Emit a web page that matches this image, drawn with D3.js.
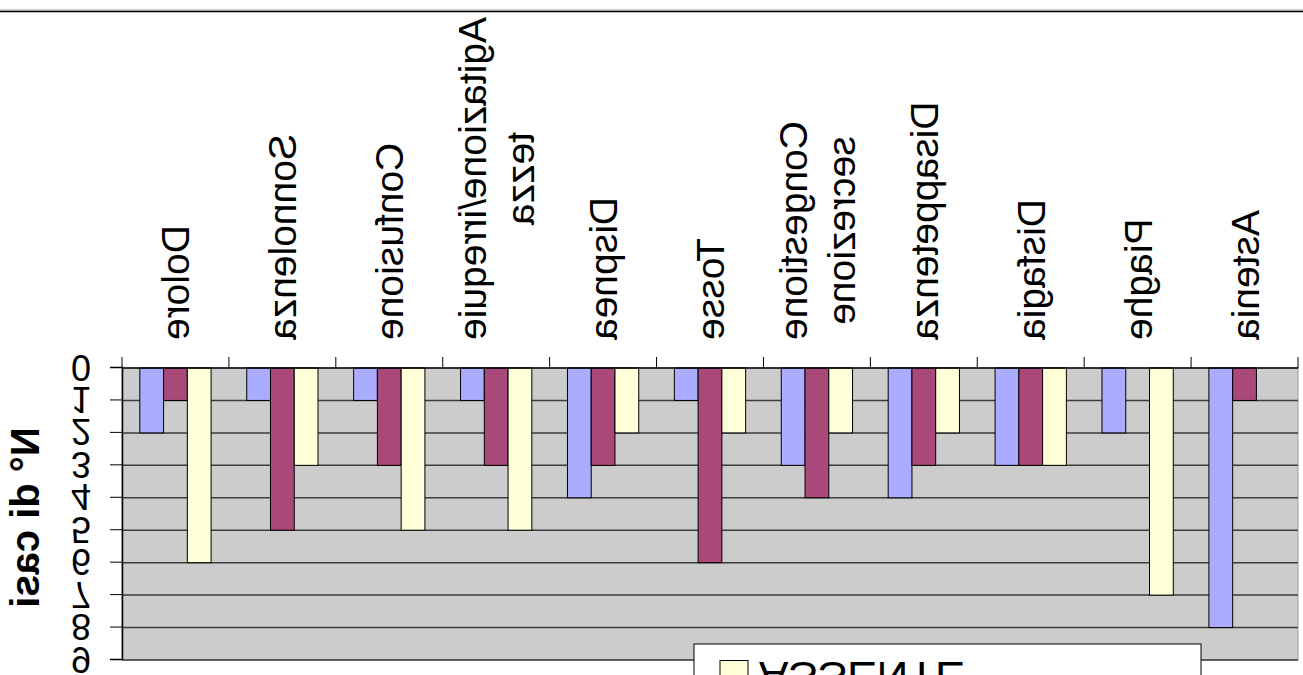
<!DOCTYPE html>
<html>
<head>
<meta charset="utf-8">
<script src="https://cdn.jsdelivr.net/npm/d3@7"></script>
<style>
  html, body { margin: 0; padding: 0; background: #ffffff; }
  svg { display: block; font-family: "Liberation Sans", Arial, sans-serif; }
</style>
</head>
<body>
<svg id="chart" width="1303" height="675"></svg>
<script>
// Sintomi (righe di etichetta già spezzate come nel grafico)
const categorie = [
  ["Dolore"], ["Sonnolenza"], ["Confusione"], ["Agitazione/irrequie", "tezza"],
  ["Dispnea"], ["Tosse"], ["Congestione", "secrezione"], ["Disappetenza"],
  ["Disfagia"], ["Piaghe"], ["Astenia"]
];
// Numero di casi per serie
const serieBlu    = [2, 1, 1, 1, 4, 1, 3, 4, 3, 2, 8];
const serieViola  = [1, 5, 3, 3, 3, 6, 4, 3, 3, 0, 1];
const serieGialla = [6, 3, 5, 5, 2, 2, 2, 2, 3, 7, 0];
const coloriSerie = ["#aaacff", "#a9497a", "#ffffd8"];
const yTicks = [0, 1, 2, 3, 4, 5, 6, 7, 8, 9];
const titoloAsseY = "N° di casi";
const voceLegenda = "ASSENTE";

const W = 1303, H = 675;
const svg = d3.select("#chart");

// The whole chart is drawn upside down (mirrored vertically)
const root = svg.append("g").attr("transform", `translate(0,${H}) scale(1,-1)`);

const nomi = categorie.map(c => c.join(""));
const serie = [serieBlu, serieViola, serieGialla];

const x0 = d3.scaleBand().domain(nomi).range([122, 1298]).padding(0);
const x1 = d3.scaleBand().domain([0, 1, 2]).range([0, x0.bandwidth()])
  .paddingInner(0).paddingOuter(0.75);
const y = d3.scaleLinear().domain([0, 9]).range([307, 15]);

// outer frame line
root.append("line").attr("x1", 0).attr("x2", W).attr("y1", 665).attr("y2", 665)
  .attr("stroke", "#aaaaaa").attr("stroke-width", 1);
root.append("line").attr("x1", 0).attr("x2", W).attr("y1", 663.5).attr("y2", 663.5)
  .attr("stroke", "#000").attr("stroke-width", 1.5);

// plot area
root.append("rect")
  .attr("x", x0.range()[0]).attr("y", y(9))
  .attr("width", x0.range()[1] - x0.range()[0]).attr("height", y(0) - y(9))
  .attr("fill", "#cccccc").attr("stroke", "#9a9a9a").attr("stroke-width", 1);

// gridlines
root.append("g").selectAll("line").data(yTicks.filter(d => d > 0)).join("line")
  .attr("x1", x0.range()[0]).attr("x2", x0.range()[1])
  .attr("y1", d => y(d)).attr("y2", d => y(d))
  .attr("stroke", "#3c3c3c").attr("stroke-width", 1.5);

// bars
const gruppi = root.append("g").selectAll("g").data(nomi).join("g")
  .attr("transform", d => `translate(${x0(d)},0)`);
gruppi.selectAll("rect")
  .data((d, i) => serie.map((s, k) => ({ k, v: s[i] })).filter(o => o.v > 0))
  .join("rect")
  .attr("x", d => x1(d.k)).attr("width", x1.bandwidth())
  .attr("y", d => y(d.v)).attr("height", d => y(0) - y(d.v))
  .attr("fill", d => coloriSerie[d.k])
  .attr("stroke", "#000").attr("stroke-width", 1);

// y axis
const yAxis = d3.axisLeft(y).tickValues(yTicks).tickSize(12).tickPadding(19).tickFormat(d3.format("d"));
const gy = root.append("g").attr("transform", `translate(${x0.range()[0]},0)`).call(yAxis);
gy.select(".domain").attr("stroke", "#000").attr("stroke-width", 1.5);
gy.selectAll(".tick line").attr("stroke", "#000").attr("stroke-width", 1);
gy.selectAll(".tick text").attr("font-size", 36).attr("fill", "#000")
  .attr("font-family", "'Liberation Sans', Arial, sans-serif").attr("dy", "0.36em");

// x axis line and category ticks
root.append("line").attr("x1", x0.range()[0]).attr("x2", x0.range()[1])
  .attr("y1", y(0)).attr("y2", y(0)).attr("stroke", "#000").attr("stroke-width", 1.5);
const confini = nomi.map(n => x0(n)).concat([x0.range()[1]]);
root.append("g").selectAll("line").data(confini).join("line")
  .attr("x1", d => d).attr("x2", d => d)
  .attr("y1", y(0)).attr("y2", y(0) + 11)
  .attr("stroke", "#000").attr("stroke-width", 1);

// category labels, rotated, centred lines, ending near the axis
const FS = 39, interlinea = 48, fineEtichetta = 335;
categorie.forEach((righe, i) => {
  const cx = x0(nomi[i]) + x0.bandwidth() / 2;
  const g = root.append("g");
  const testi = righe.map((r, j) => {
    const b = cx + FS * 0.36 + (j - (righe.length - 1) / 2) * interlinea;
    return g.append("text").text(r)
      .attr("font-size", FS).attr("fill", "#000")
      .attr("text-anchor", "middle")
      .attr("data-b", b);
  });
  const maxLen = d3.max(testi, t => t.node().getComputedTextLength());
  const centro = fineEtichetta + maxLen / 2;
  testi.forEach(t => {
    const b = +t.attr("data-b");
    t.attr("transform", `translate(${b},${centro}) rotate(-90)`).attr("data-b", null);
  });
});

// y axis title
root.append("text").text(titoloAsseY)
  .attr("transform", `translate(39,157.5) rotate(-90)`)
  .attr("text-anchor", "middle")
  .attr("font-size", 40).attr("font-weight", "bold").attr("fill", "#000");

// legend
const leg = root.append("g");
leg.append("rect").attr("x", 694).attr("y", -60).attr("width", 507).attr("height", 91)
  .attr("fill", "#fff").attr("stroke", "#000").attr("stroke-width", 1);
leg.append("rect").attr("x", 720).attr("y", -13.5).attr("width", 28).attr("height", 28)
  .attr("fill", coloriSerie[2]).attr("stroke", "#000").attr("stroke-width", 1);
leg.append("text").text(voceLegenda).attr("x", 759).attr("y", 13)
  .attr("font-size", 44).attr("fill", "#000");
</script>
</body>
</html>
